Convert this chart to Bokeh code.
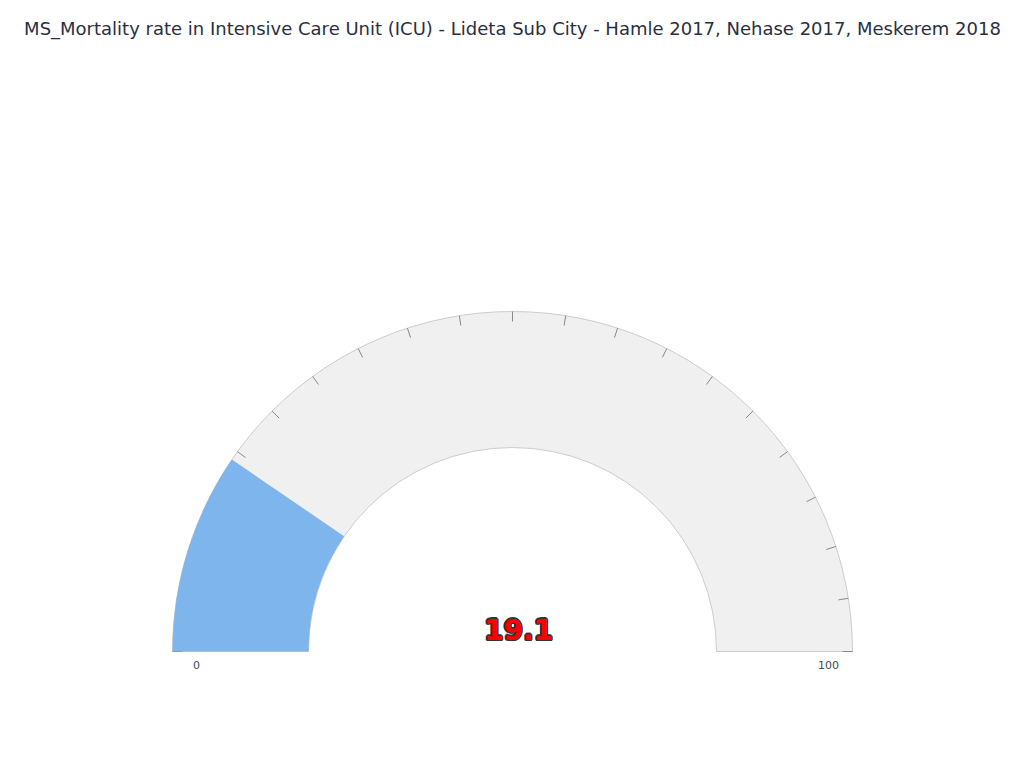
import math
from bokeh.plotting import figure
from bokeh.models import Range1d
from bokeh.core.properties import value
from bokeh.embed import file_html
from bokeh.resources import INLINE

# ---- data ----
title_text = "MS_Mortality rate in Intensive Care Unit (ICU) - Lideta Sub City - Hamle 2017, Nehase 2017, Meskerem 2018"
gauge_value = 19.1
gauge_min = 0
gauge_max = 100
tick_values = list(range(0, 101, 5))
range_labels = ["0", "100"]

W, H = 1008, 752
p = figure(width=W, height=H, output_backend="svg", toolbar_location=None,
           x_range=Range1d(0, W), y_range=Range1d(768 - H, 768),
           min_border=0)
p.axis.visible = False
p.grid.visible = False
p.outline_line_color = None
p.background_fill_color = "white"

cx, cy = 512, 768 - 651
r_out, r_in = 340, 204

def ang(v):
    return math.pi * (1 - (v - gauge_min) / (gauge_max - gauge_min))

# background band
p.annular_wedge(x=[cx], y=[cy], inner_radius=r_in, outer_radius=r_out,
                start_angle=0, end_angle=math.pi,
                fill_color="#f0f0f0", line_color="#cccccc", line_width=1)

# ticks
x0s, y0s, x1s, y1s = [], [], [], []
for t in tick_values:
    a = ang(t)
    x0s.append(cx + (r_out - 10) * math.cos(a)); y0s.append(cy + (r_out - 10) * math.sin(a))
    x1s.append(cx + r_out * math.cos(a)); y1s.append(cy + r_out * math.sin(a))
p.segment(x0=x0s, y0=y0s, x1=x1s, y1=y1s, line_color="#888888", line_width=1)

# value bar
p.annular_wedge(x=[cx], y=[cy], inner_radius=r_in, outer_radius=r_out,
                start_angle=ang(gauge_value), end_angle=math.pi,
                fill_color="#7eb5ec", line_color=None)

# range labels
p.text(x=[196, 828], y=[768 - 664, 768 - 664], text=range_labels,
       text_font=value("DejaVu Sans"), text_font_size="11px",
       text_color="#444c5c", text_align="center", text_baseline="middle")

# value text with outline
vt = f"{gauge_value:.1f}"
vx, vy = 518, 768 - 628.5
for dx, dy in [(-1.5, 0), (1.5, 0), (0, -1.5), (0, 1.5), (-1, -1), (1, 1), (-1, 1), (1, -1)]:
    p.text(x=[vx], y=[vy], text=[vt], x_offset=dx, y_offset=dy,
           text_font=value("DejaVu Sans"), text_font_style="bold", text_font_size="28px",
           text_color="#333333", text_align="center", text_baseline="middle")
p.text(x=[vx], y=[vy], text=[vt],
       text_font=value("DejaVu Sans"), text_font_style="bold", text_font_size="28px",
       text_color="#ff0000", text_align="center", text_baseline="middle")

# title
p.text(x=[512], y=[768 - 28], text=[title_text],
       text_font=value("DejaVu Sans"), text_font_size="18px",
       text_color="#2a2f3f", text_align="center", text_baseline="middle")

open("out.html", "w").write(file_html(p, INLINE))
